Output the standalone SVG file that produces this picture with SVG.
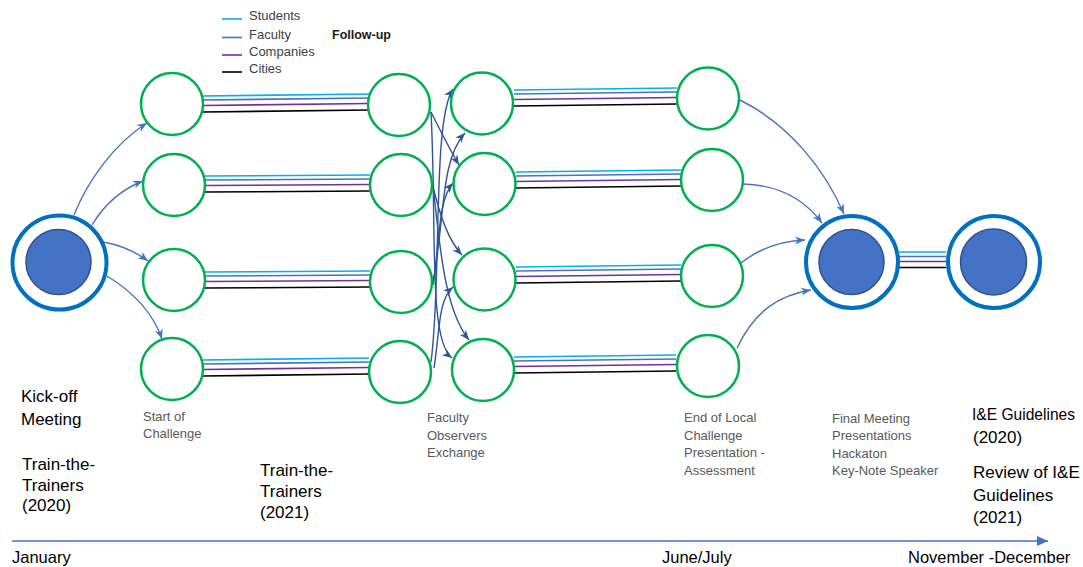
<svg xmlns="http://www.w3.org/2000/svg" width="1083" height="567" viewBox="0 0 1083 567">
<style>
.g{fill:none;stroke:#00B050;stroke-width:2.5}
.bo{fill:#fff;stroke:#0070C0;stroke-width:4}
.bi{fill:#4472C4;stroke:#2F528F;stroke-width:1.5}
.s{stroke:#00B0F0;stroke-width:1.6}
.f{stroke:#4472C4;stroke-width:1.6}
.c{stroke:#7030A0;stroke-width:1.6}
.k{stroke:#000;stroke-width:1.6}
.a1{fill:none;stroke:#4472C4;stroke-width:1.4;marker-end:url(#ah1)}
.a2{fill:none;stroke:#2F5597;stroke-width:1.4;marker-end:url(#ah2)}
text{font-family:"Liberation Sans",Arial,sans-serif}
.big{font-size:17px;fill:#000}
.sm{font-size:13px;fill:#595959}
.lg{font-size:13px;fill:#404040}
</style>
<defs>
<marker id="ah1" markerUnits="userSpaceOnUse" markerWidth="11" markerHeight="9" refX="10" refY="4.5" orient="auto"><path d="M0,0.5 L10,4.5 L0,8.5 L3,4.5 z" fill="#4472C4"/></marker>
<marker id="ah2" markerUnits="userSpaceOnUse" markerWidth="11" markerHeight="9" refX="10" refY="4.5" orient="auto"><path d="M0,0.5 L10,4.5 L0,8.5 L3,4.5 z" fill="#2F5597"/></marker>
<marker id="ah3" markerUnits="userSpaceOnUse" markerWidth="12" markerHeight="10" refX="11" refY="5" orient="auto"><path d="M0,0 L11,5 L0,10 z" fill="#4472C4"/></marker>
</defs>

<g id="legend">
<line class="s" x1="222" y1="19" x2="242" y2="19"/>
<line class="f" x1="222" y1="37.5" x2="242" y2="37.5"/>
<line class="c" x1="222" y1="55" x2="242" y2="55"/>
<line class="k" x1="222" y1="72" x2="242" y2="72"/>
<text class="lg" x="249" y="20">Students</text>
<text class="lg" x="249" y="38.5">Faculty</text>
<text class="lg" x="249" y="56">Companies</text>
<text class="lg" x="249" y="73">Cities</text>
<text x="332" y="38.5" style="font-size:12.5px;font-weight:bold;fill:#1a1a1a">Follow-up</text>
</g>

<g id="connectors">
<g>
<line class="s" x1="203" y1="96" x2="369" y2="94"/><line class="f" x1="203" y1="100" x2="369" y2="98"/><line class="c" x1="203" y1="105.5" x2="369" y2="103.5"/><line class="k" x1="203" y1="112" x2="369" y2="110"/>
<line class="s" x1="205" y1="176" x2="370" y2="175"/><line class="f" x1="205" y1="180" x2="370" y2="179"/><line class="c" x1="205" y1="185.5" x2="370" y2="184.5"/><line class="k" x1="205" y1="192" x2="370" y2="191"/>
<line class="s" x1="205" y1="272" x2="370" y2="271"/><line class="f" x1="205" y1="276" x2="370" y2="275"/><line class="c" x1="205" y1="281.5" x2="370" y2="280.5"/><line class="k" x1="205" y1="288" x2="370" y2="287"/>
<line class="s" x1="203" y1="360" x2="369" y2="358"/><line class="f" x1="203" y1="364" x2="369" y2="362"/><line class="c" x1="203" y1="369.5" x2="369" y2="367.5"/><line class="k" x1="203" y1="376" x2="369" y2="374"/>
</g>
<g>
<line class="s" x1="514" y1="90" x2="677" y2="88"/><line class="f" x1="514" y1="94" x2="677" y2="92"/><line class="c" x1="514" y1="99.5" x2="677" y2="97.5"/><line class="k" x1="514" y1="106" x2="677" y2="104"/>
<line class="s" x1="516" y1="172" x2="681" y2="170"/><line class="f" x1="516" y1="176" x2="681" y2="174"/><line class="c" x1="516" y1="181.5" x2="681" y2="179.5"/><line class="k" x1="516" y1="188" x2="681" y2="186"/>
<line class="s" x1="516" y1="267" x2="681" y2="265"/><line class="f" x1="516" y1="271" x2="681" y2="269"/><line class="c" x1="516" y1="276.5" x2="681" y2="274.5"/><line class="k" x1="516" y1="283" x2="681" y2="281"/>
<line class="s" x1="514" y1="357" x2="676" y2="355"/><line class="f" x1="514" y1="361" x2="676" y2="359"/><line class="c" x1="514" y1="366.5" x2="676" y2="364.5"/><line class="k" x1="514" y1="373" x2="676" y2="371"/>
</g>
<line class="s" x1="899" y1="252" x2="946" y2="252"/><line class="f" x1="899" y1="256.5" x2="946" y2="256.5"/><line class="c" x1="899" y1="261.5" x2="946" y2="261.5"/><line class="k" x1="899" y1="267.5" x2="946" y2="267.5"/>

<path class="a1" d="M74,215 C88,180 115,143 147,123"/>
<path class="a1" d="M92,225 C104,205 120,190 143,181"/>
<path class="a1" d="M103,242 C120,245 136,252 148,261"/>
<path class="a1" d="M107,276 C130,290 152,310 162,339"/>

<path class="a2" d="M431,362 C442,280 432,120 453,89"/>
<path class="a2" d="M433,282 C445,220 440,160 465,133"/>
<path class="a2" d="M431,112 C440,130 450,150 459,165"/>
<path class="a2" d="M433,285 C440,240 438,200 453,183"/>
<path class="a2" d="M433,187 C440,215 448,240 462,255"/>
<path class="a2" d="M434,368 C440,330 438,300 453,287"/>
<path class="a2" d="M433,185 C440,250 445,310 469,340"/>
<path class="a2" d="M431,112 C437,230 428,340 452,358"/>

<path class="a1" d="M740,100 C790,125 825,170 844,214"/>
<path class="a1" d="M743,184 C780,185 805,200 822,223"/>
<path class="a1" d="M741,263 C760,248 780,241 805,240"/>
<path class="a1" d="M737,348 C755,310 780,295 811,290"/>

<line x1="12" y1="541" x2="1048" y2="541" stroke="#4472C4" stroke-width="1.5" marker-end="url(#ah3)"/>
</g>

<g id="kickoff"><circle class="bo" cx="59.5" cy="262.5" r="47"/><circle class="bi" cx="58.5" cy="262" r="32.5"/></g>
<g id="final"><circle class="bo" cx="852" cy="262" r="46"/><circle class="bi" cx="851.5" cy="262" r="32.5"/></g>
<g id="guidelines"><circle class="bo" cx="994" cy="262" r="46"/><circle class="bi" cx="993.5" cy="262" r="33"/></g>

<g id="c1r1"><circle class="g" cx="172" cy="104" r="31"/></g>
<g id="c1r2"><circle class="g" cx="174" cy="185" r="31"/></g>
<g id="c1r3"><circle class="g" cx="174" cy="280" r="31"/></g>
<g id="c1r4"><circle class="g" cx="172" cy="369" r="31"/></g>
<g id="c2r1"><circle class="g" cx="399" cy="105" r="31"/></g>
<g id="c2r2"><circle class="g" cx="401" cy="185" r="31"/></g>
<g id="c2r3"><circle class="g" cx="401" cy="282" r="31"/></g>
<g id="c2r4"><circle class="g" cx="400" cy="372" r="31"/></g>
<g id="c3r1"><circle class="g" cx="482" cy="103.5" r="31"/></g>
<g id="c3r2"><circle class="g" cx="484.5" cy="184" r="31"/></g>
<g id="c3r3"><circle class="g" cx="484.5" cy="279.5" r="31"/></g>
<g id="c3r4"><circle class="g" cx="483" cy="370" r="31"/></g>
<g id="c4r1"><circle class="g" cx="708" cy="98.5" r="31"/></g>
<g id="c4r2"><circle class="g" cx="712" cy="180" r="31"/></g>
<g id="c4r3"><circle class="g" cx="712" cy="276" r="31"/></g>
<g id="c4r4"><circle class="g" cx="708" cy="366" r="31"/></g>

<g id="labels">
<text class="big" x="21" y="402">Kick-off</text>
<text class="big" x="21" y="425">Meeting</text>
<text class="big" x="22" y="470">Train-the-</text>
<text class="big" x="22" y="490.5">Trainers</text>
<text class="big" x="22" y="511">(2020)</text>
<text class="big" x="260" y="476">Train-the-</text>
<text class="big" x="260" y="497">Trainers</text>
<text class="big" x="260" y="518">(2021)</text>
<text class="sm" x="143" y="420.5">Start of</text>
<text class="sm" x="143" y="438">Challenge</text>
<text class="sm" x="427" y="422">Faculty</text>
<text class="sm" x="427" y="439.5">Observers</text>
<text class="sm" x="427" y="457">Exchange</text>
<text class="sm" x="684" y="422">End of Local</text>
<text class="sm" x="684" y="439.5">Challenge</text>
<text class="sm" x="684" y="457">Presentation -</text>
<text class="sm" x="684" y="474.5">Assessment</text>
<text class="sm" x="832" y="422.5">Final Meeting</text>
<text class="sm" x="832" y="440">Presentations</text>
<text class="sm" x="832" y="457.5">Hackaton</text>
<text class="sm" x="832" y="475">Key-Note Speaker</text>
<text class="big" x="972" y="420" textLength="103" lengthAdjust="spacingAndGlyphs">I&amp;E Guidelines</text>
<text class="big" x="973" y="443">(2020)</text>
<text class="big" x="973" y="478">Review of I&amp;E</text>
<text class="big" x="973" y="501">Guidelines</text>
<text class="big" x="973" y="523">(2021)</text>
<text class="big" x="12" y="563" style="font-size:16.5px">January</text>
<text class="big" x="662" y="563" style="font-size:16.5px">June/July</text>
<text class="big" x="908" y="563" style="font-size:16.5px">November -December</text>
</g>
</svg>
